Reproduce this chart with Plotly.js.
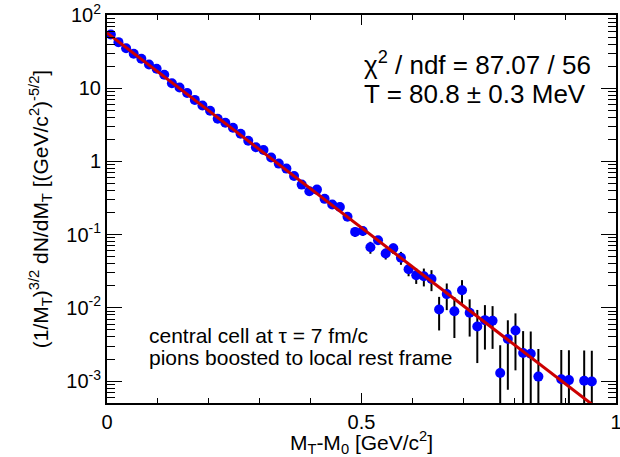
<!DOCTYPE html>
<html>
<head>
<meta charset="utf-8">
<script src="https://cdn.plot.ly/plotly-3.0.1.min.js"></script>
<style>html,body{margin:0;padding:0;background:#fff}#chart{width:620px;height:457px}</style>
</head>
<body>
<div id="chart"></div>
<script>
// bin centres (GeV/c^2)
var mtBins = [0.0075,0.0225,0.0375,0.0525,0.0675,0.0825,0.0975,0.1125,0.1275,0.1425,
  0.1575,0.1725,0.1875,0.2025,0.2175,0.2325,0.2475,0.2625,0.2775,0.2925,
  0.3075,0.3225,0.3375,0.3525,0.3675,0.3825,0.3975,0.4125,0.4275,0.4425,
  0.4575,0.4725,0.4875,0.5025,0.5175,0.5325,0.5475,0.5625,0.5775,0.5925,
  0.6075,0.6225,0.6375,0.6525,0.6675,0.6825,0.6975,0.7125,0.7275,0.7425,
  0.7575,0.7725,0.7875,0.8025,0.8175,0.8325,0.8475,0.8925,0.9075,0.9375,0.9525];
// (1/MT)^{3/2} dN/dMT
var spectrum = [54.2,42.6,35.2,29.5,25.2,21.1,18.4,15.3,11.7,10.2,
  8.59,6.92,5.79,4.93,3.82,3.37,2.89,2.39,1.92,1.56,
  1.43,1.13,0.933,0.798,0.632,0.482,0.391,0.412,0.308,0.258,
  0.239,0.175,0.109,0.112,0.0673,0.0839,0.0552,0.0649,0.0484,0.0337,
  0.0278,0.0270,0.0248,0.00951,0.0154,0.00897,0.0174,0.00855,0.00556,0.00679,
  0.00665,0.00129,0.00376,0.00490,0.00241,0.00236,0.00115,0.00106,0.00103,0.00101,0.000986];
var spectrumErr = [0.36,0.32,0.29,0.27,0.25,0.22,0.21,0.19,0.17,0.16,
  0.14,0.13,0.12,0.11,0.095,0.090,0.083,0.076,0.068,0.061,
  0.058,0.052,0.047,0.044,0.039,0.034,0.031,0.031,0.027,0.025,
  0.024,0.020,0.016,0.016,0.0125,0.011,0.0095,0.0106,0.0097,0.0067,
  0.0066,0.0074,0.0079,0.0046,0.0061,0.0051,0.0065,0.0045,0.0038,0.0041,
  0.0039,0.0018,0.0030,0.0035,0.0024,0.0024,0.0016,0.0016,0.0016,0.0016,0.0016];
// exponential fit, drawn as its end points (straight on the log scale)
var fitX = [0, 1.0];
var fitY = [57, 2.7e-4];

var yMajorVals = [0.001, 0.01, 0.1, 1, 10, 100];
var yMajorText = ['10<sup>-3</sup>','10<sup>-2</sup>','10<sup>-1</sup>','1','10','10<sup>2</sup>'];
var xMajorVals = [0, 0.5, 1];
var xMajorText = ['0', '0.5', '1'];

var yMinor = [];
for (var d = -4; d <= 2; d++) {
  for (var m = 2; m <= 9; m++) yMinor.push(m * Math.pow(10, d));
}

var FONT = 'Liberation Sans, Arial, Helvetica, sans-serif';

var traces = [
  {
    x: mtBins, y: spectrum, type: 'scatter', mode: 'markers',
    marker: {color: '#0000ff', size: 10},
    error_y: {type: 'data', array: spectrumErr, visible: true, color: '#000000', thickness: 2, width: 0},
    cliponaxis: true, showlegend: false, hoverinfo: 'skip'
  },
  {
    x: fitX, y: fitY, type: 'scatter', mode: 'lines',
    line: {color: '#cc0000', width: 3},
    showlegend: false, hoverinfo: 'skip'
  }
];

var layout = {
  width: 620, height: 457,
  margin: {l: 107, r: 4, t: 15, b: 54},
  paper_bgcolor: '#ffffff', plot_bgcolor: '#ffffff',
  font: {family: FONT, size: 20, color: '#000000'},
  showlegend: false,
  xaxis: {
    range: [0, 1], type: 'linear',
    tickmode: 'array', tickvals: xMajorVals, ticktext: xMajorText,
    ticks: 'inside', ticklen: 10, tickwidth: 1, tickcolor: '#000',
    minor: {tickmode: 'linear', tick0: 0, dtick: 0.1, ticks: 'inside', ticklen: 5, tickcolor: '#000'},
    showline: true, linewidth: 2, linecolor: '#000', mirror: 'allticks',
    showgrid: false, zeroline: false, ticklabeloverflow: 'allow', ticklabelstandoff: 0,
    tickfont: {size: 20, family: FONT},
    title: {text: 'M<sub>T</sub>-M<sub>0</sub> [GeV/c<sup>2</sup>]', font: {size: 21, family: FONT}, standoff: 6}
  },
  yaxis: {
    type: 'log', range: [-3.3, 2],
    tickmode: 'array', tickvals: yMajorVals, ticktext: yMajorText,
    ticks: 'inside', ticklen: 15, tickwidth: 1, tickcolor: '#000',
    minor: {tickmode: 'array', tickvals: yMinor, ticks: 'inside', ticklen: 8, tickcolor: '#000'},
    showline: true, linewidth: 2, linecolor: '#000', mirror: 'allticks',
    showgrid: false, zeroline: false, ticklabeloverflow: 'allow',
    tickfont: {size: 20, family: FONT},
    title: {text: '(1/M<sub>T</sub>)<sup>3/2</sup> dN/dM<sub>T</sub> [(GeV/c<sup>2</sup>)<sup>-5/2</sup>]', font: {size: 21, family: FONT}, standoff: 12}
  },
  annotations: [
    {text: '\u03C7<sup>2</sup> / ndf = 87.07 / 56', xref: 'paper', yref: 'paper', x: 0.501, y: 0.874,
     xanchor: 'left', yanchor: 'middle', showarrow: false, font: {size: 26, family: FONT}},
    {text: 'T = 80.8 \u00B1 0.3 MeV', xref: 'paper', yref: 'paper', x: 0.501, y: 0.797,
     xanchor: 'left', yanchor: 'middle', showarrow: false, font: {size: 26, family: FONT}},
    {text: 'central cell at \u03C4 = 7 fm/c', xref: 'paper', yref: 'paper', x: 0.078, y: 0.173,
     xanchor: 'left', yanchor: 'middle', showarrow: false, font: {size: 21, family: FONT}},
    {text: 'pions boosted to local rest frame', xref: 'paper', yref: 'paper', x: 0.078, y: 0.118,
     xanchor: 'left', yanchor: 'middle', showarrow: false, font: {size: 21, family: FONT}}
  ]
};

Plotly.newPlot('chart', traces, layout, {staticPlot: true, displayModeBar: false});
</script>
</body>
</html>
